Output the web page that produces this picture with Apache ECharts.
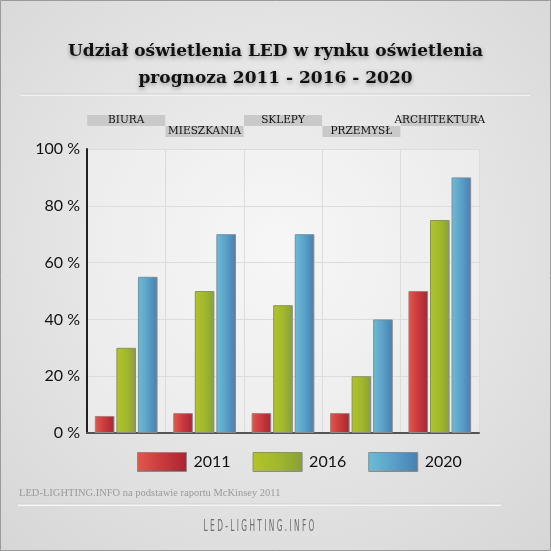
<!DOCTYPE html>
<html>
<head>
<meta charset="utf-8">
<script src="https://cdn.jsdelivr.net/npm/echarts@6/dist/echarts.min.js"></script>
<style>
html,body{margin:0;padding:0;}
#c{width:551px;height:551px;}
</style>
</head>
<body>
<div id="c"></div>
<script>
const categories = ['BIURA', 'MIESZKANIA', 'SKLEPY', 'PRZEMYSŁ', 'ARCHITEKTURA'];
const seriesNames = ['2011', '2016', '2020'];
const values2011 = [6, 7, 7, 7, 50];
const values2016 = [30, 50, 45, 20, 75];
const values2020 = [55, 70, 70, 40, 90];
const yTicks = [0, 20, 40, 60, 80, 100];

const titleText = 'Udział oświetlenia LED w rynku oświetlenia\nprognoza 2011 - 2016 - 2020';
const sourceText = 'LED-LIGHTING.INFO na podstawie raportu McKinsey 2011';
const brandText = 'L E D - L I G H T I N G . I N F O';

function hgrad2(a, m, b) {
  return new echarts.graphic.LinearGradient(0, 0, 1, 0, [
    {offset: 0, color: a}, {offset: 0.5, color: m}, {offset: 1, color: b}
  ]);
}
const colors = [
  hgrad2('#e2584c', '#c83a3c', '#ad2331'),
  hgrad2('#b2c427', '#a2b82c', '#88a034'),
  hgrad2('#6cbdd3', '#5aa0c8', '#4680b2')
];
const dataSets = [values2011, values2016, values2020];

const chart = echarts.init(document.getElementById('c'));

const labelBox = {
  fontFamily: 'DejaVu Serif',
  fontSize: 10.5,
  color: '#111',
  width: 78,
  height: 11,
  lineHeight: 11,
  align: 'center',
  backgroundColor: '#c9c9c9'
};

const option = {
  backgroundColor: new echarts.graphic.RadialGradient(0.5, 0.45, 0.75, [
    {offset: 0, color: '#f3f3f3'}, {offset: 1, color: '#d6d6d6'}
  ]),
  animation: false,
  title: {
    text: titleText,
    left: 'center',
    top: 33,
    textStyle: {
      fontFamily: 'DejaVu Serif',
      fontWeight: 'bold',
      fontSize: 17,
      lineHeight: 27,
      color: '#111',
      textShadowColor: 'rgba(0,0,0,0.35)',
      textShadowBlur: 4,
      textShadowOffsetY: 2
    }
  },
  legend: {
    data: seriesNames,
    top: 447,
    left: 132,
    itemWidth: 49,
    itemHeight: 19,
    itemGap: 22,
    icon: 'rect',
    textStyle: {fontFamily: 'Lato', fontSize: 16, color: '#111', padding: [0, 0, 0, 2]},
    itemStyle: {borderColor: '#8a8a8a', borderWidth: 1}
  },
  grid: {left: 87, right: 72, top: 149, bottom: 118, show: true,
    backgroundColor: 'rgba(255,255,255,0.3)', borderWidth: 0},
  xAxis: [
    {
      type: 'category', data: categories, position: 'bottom',
      axisLine: {lineStyle: {color: '#555', width: 2}},
      axisTick: {show: false, interval: 0},
      axisLabel: {show: false, interval: 0},
      splitLine: {show: true, interval: 0, lineStyle: {color: '#dcdcdc', width: 1}}
    },
    {
      type: 'category', data: categories, position: 'top', gridIndex: 0,
      axisLine: {show: false}, axisTick: {show: false}, splitLine: {show: false},
      axisLabel: {
        interval: function (i) { return i % 2 === 0; },
        margin: 23,
        formatter: function (v) { return '{b|' + v + '}'; },
        rich: {b: labelBox}
      }
    },
    {
      type: 'category', data: categories, position: 'top', gridIndex: 0,
      axisLine: {show: false}, axisTick: {show: false}, splitLine: {show: false},
      axisLabel: {
        interval: function (i) { return i % 2 === 1; },
        margin: 12,
        formatter: function (v) { return '{b|' + v + '}'; },
        rich: {b: labelBox}
      }
    }
  ],
  yAxis: {
    type: 'value', min: 0, max: 100, interval: 20,
    axisLine: {show: true, lineStyle: {color: '#222', width: 2}},
    axisTick: {show: false},
    axisLabel: {
      fontFamily: 'Lato', fontSize: 16, color: '#111', margin: 7,
      formatter: function (v) { return yTicks.indexOf(v) >= 0 ? v + ' %' : ''; }
    },
    splitLine: {lineStyle: {color: '#dcdcdc', width: 1}}
  },
  series: seriesNames.map(function (name, i) {
    return {
      name: name, type: 'bar', data: dataSets[i],
      barGap: '10%', barCategoryGap: '20%',
      itemStyle: {color: colors[i], borderColor: '#8a8a8a', borderWidth: 1}
    };
  }),
  graphic: [
    {type: 'rect', shape: {x: 0.5, y: 0.5, width: 550, height: 550},
      style: {fill: 'none', stroke: '#9a9a9a', lineWidth: 1}, silent: true},
    {type: 'line', shape: {x1: 20, y1: 95, x2: 530, y2: 95},
      style: {stroke: '#f7f7f7', lineWidth: 1.5}},
    {type: 'line', shape: {x1: 20, y1: 94, x2: 530, y2: 94},
      style: {stroke: '#cfcfcf', lineWidth: 1}},
    {type: 'text', left: 19, top: 488,
      style: {text: sourceText, fontFamily: 'Liberation Serif', fontSize: 10.5, fill: '#9a9a9a'}},
    {type: 'line', shape: {x1: 18, y1: 505, x2: 501, y2: 505},
      style: {stroke: '#f7f7f7', lineWidth: 2}},
    {type: 'line', shape: {x1: 18, y1: 504, x2: 501, y2: 504},
      style: {stroke: '#d0d0d0', lineWidth: 1}},
    {type: 'text', x: 259, y: 527, originX: 0, originY: 0, scaleX: 0.55,
      style: {text: brandText, x: 0, y: 0, align: 'center', verticalAlign: 'middle',
        fontFamily: 'DejaVu Sans Condensed', fontSize: 15, fill: '#6e6e6e',
        shadowColor: 'rgba(0,0,0,0.3)', shadowBlur: 3, shadowOffsetY: 1}}
  ]
};
chart.setOption(option);
</script>
</body>
</html>
